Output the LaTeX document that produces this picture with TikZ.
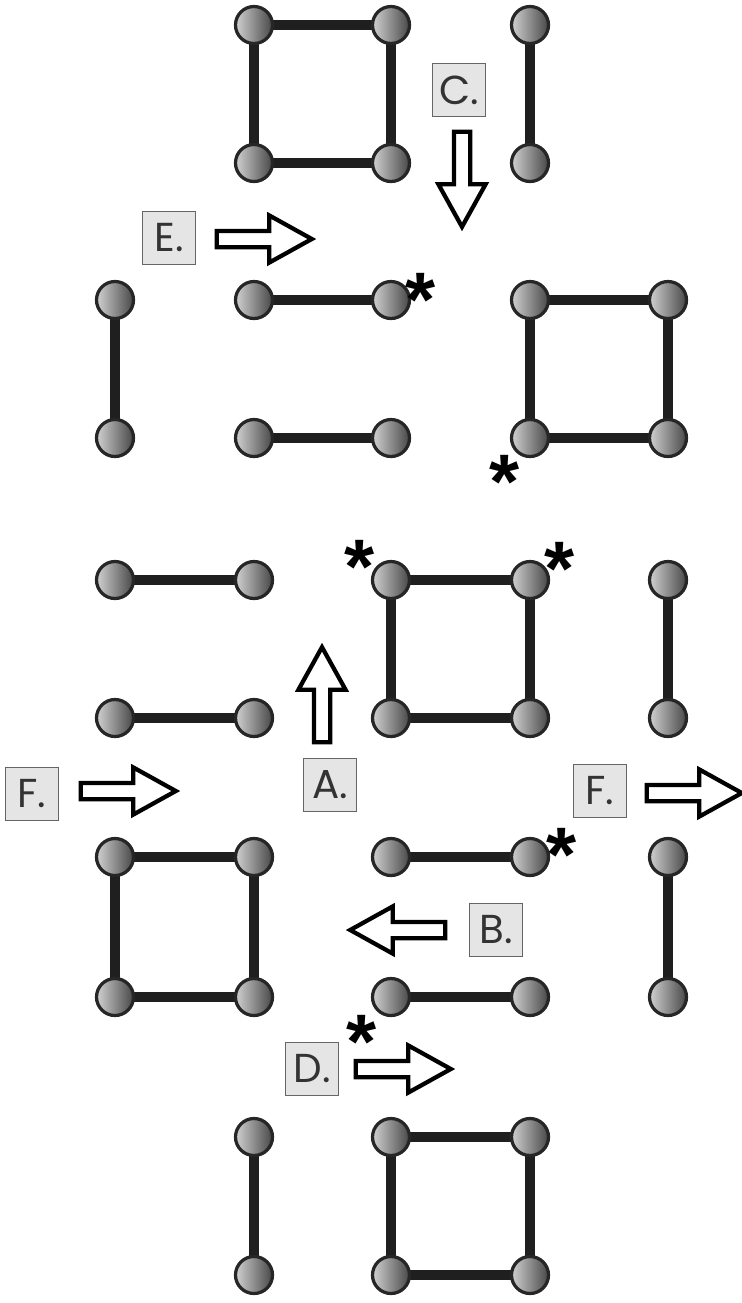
\documentclass[tikz,border=0pt]{standalone}
\usepackage{fontspec}
\setmainfont{Poppins}
\newfontfamily\astfont{Liberation Sans}
\usetikzlibrary{shapes.arrows,backgrounds}
\tikzset{
  ball/.style={circle, minimum size=7.4mm, inner sep=0pt, draw=black!85, line width=0.65mm, left color=black!18, right color=black!72},
  bond/.style={line width=2.1mm, draw=black!88},
  lbl/.style={rectangle, draw=black!60, line width=0.25mm, fill=black!10, minimum size=10.6mm, inner sep=0pt, font=\fontsize{23}{23}\selectfont, text=black!80},
  barrow/.style={single arrow, draw=black, line width=0.85mm, fill=white, minimum height=19mm, inner sep=1.2mm, single arrow head extend=3.1mm, single arrow tip angle=58},
  ast/.style={inner sep=0pt, font=\astfont\bfseries\fontsize{44}{44}\selectfont, yshift=-0.33cm}
}
\begin{document}
\begin{tikzpicture}[x=0.02cm,y=-0.02cm]
\useasboundingbox (0,0) rectangle (742,1303);
% top square
\node[ball] (s1a) at (254,25) {};
\node[ball] (s1b) at (391,25) {};
\node[ball] (s1c) at (254,163) {};
\node[ball] (s1d) at (391,163) {};
% vertical v1
\node[ball] (v1a) at (530,25) {};
\node[ball] (v1b) at (530,163) {};
% vertical v2
\node[ball] (v2a) at (115,300) {};
\node[ball] (v2b) at (115,438) {};
% horizontals h1 h2
\node[ball] (h1a) at (254,300) {};
\node[ball] (h1b) at (391,300) {};
\node[ball] (h2a) at (254,438) {};
\node[ball] (h2b) at (391,438) {};
% square s2
\node[ball] (s2a) at (530,300) {};
\node[ball] (s2b) at (668,300) {};
\node[ball] (s2c) at (530,438) {};
\node[ball] (s2d) at (668,438) {};
% h3 h4
\node[ball] (h3a) at (115,580) {};
\node[ball] (h3b) at (254,580) {};
\node[ball] (h4a) at (115,718) {};
\node[ball] (h4b) at (254,718) {};
% square s3
\node[ball] (s3a) at (391,580) {};
\node[ball] (s3b) at (530,580) {};
\node[ball] (s3c) at (391,718) {};
\node[ball] (s3d) at (530,718) {};
% v3
\node[ball] (v3a) at (668,580) {};
\node[ball] (v3b) at (668,718) {};
% square s4
\node[ball] (s4a) at (115,857) {};
\node[ball] (s4b) at (254,857) {};
\node[ball] (s4c) at (115,997) {};
\node[ball] (s4d) at (254,997) {};
% h5 h6
\node[ball] (h5a) at (391,857) {};
\node[ball] (h5b) at (530,857) {};
\node[ball] (h6a) at (391,997) {};
\node[ball] (h6b) at (530,997) {};
% v4
\node[ball] (v4a) at (668,857) {};
\node[ball] (v4b) at (668,997) {};
% v5
\node[ball] (v5a) at (254,1137) {};
\node[ball] (v5b) at (254,1275) {};
% square s5
\node[ball] (s5a) at (391,1137) {};
\node[ball] (s5b) at (530,1137) {};
\node[ball] (s5c) at (391,1275) {};
\node[ball] (s5d) at (530,1275) {};

\begin{scope}[on background layer]
\draw[bond] (s1a.center) -- (s1b.center) -- (s1d.center) -- (s1c.center) -- cycle;
\draw[bond] (v1a.center) -- (v1b.center);
\draw[bond] (v2a.center) -- (v2b.center);
\draw[bond] (h1a.center) -- (h1b.center);
\draw[bond] (h2a.center) -- (h2b.center);
\draw[bond] (s2a.center) -- (s2b.center) -- (s2d.center) -- (s2c.center) -- cycle;
\draw[bond] (h3a.center) -- (h3b.center);
\draw[bond] (h4a.center) -- (h4b.center);
\draw[bond] (s3a.center) -- (s3b.center) -- (s3d.center) -- (s3c.center) -- cycle;
\draw[bond] (v3a.center) -- (v3b.center);
\draw[bond] (s4a.center) -- (s4b.center) -- (s4d.center) -- (s4c.center) -- cycle;
\draw[bond] (h5a.center) -- (h5b.center);
\draw[bond] (h6a.center) -- (h6b.center);
\draw[bond] (v4a.center) -- (v4b.center);
\draw[bond] (v5a.center) -- (v5b.center);
\draw[bond] (s5a.center) -- (s5b.center) -- (s5d.center) -- (s5c.center) -- cycle;
\end{scope}

% asterisks
\node[ast] (a1) at (421,283) {*};
\node[ast] (a2) at (505,465) {*};
\node[ast] (a3) at (360,550) {*};
\node[ast] (a4) at (560,552) {*};
\node[ast] (a5) at (562,838) {*};
\node[ast] (a6) at (362,1025) {*};

% labels
\node[lbl] (lC) at (459,90) {C.};
\node[lbl] (lE) at (169,238) {E.};
\node[lbl] (lA) at (330,785) {A.};
\node[lbl] (lF1) at (32,794) {F.};
\node[lbl] (lF2) at (600,791) {F.};
\node[lbl] (lB) at (496,930) {B.};
\node[lbl] (lD) at (312,1069) {D.};

% block arrows
\node[barrow] (arC) at (462,172) [rotate=-90] {};
\node[barrow] (arE) at (257,239) {};
\node[barrow] (arA) at (322,702) [rotate=90] {};
\node[barrow] (arF1) at (121,791) {};
\node[barrow] (arF2) at (687,793) {};
\node[barrow] (arB) at (405,930) [rotate=180] {};
\node[barrow] (arD) at (396,1069) {};
\end{tikzpicture}
\end{document}
